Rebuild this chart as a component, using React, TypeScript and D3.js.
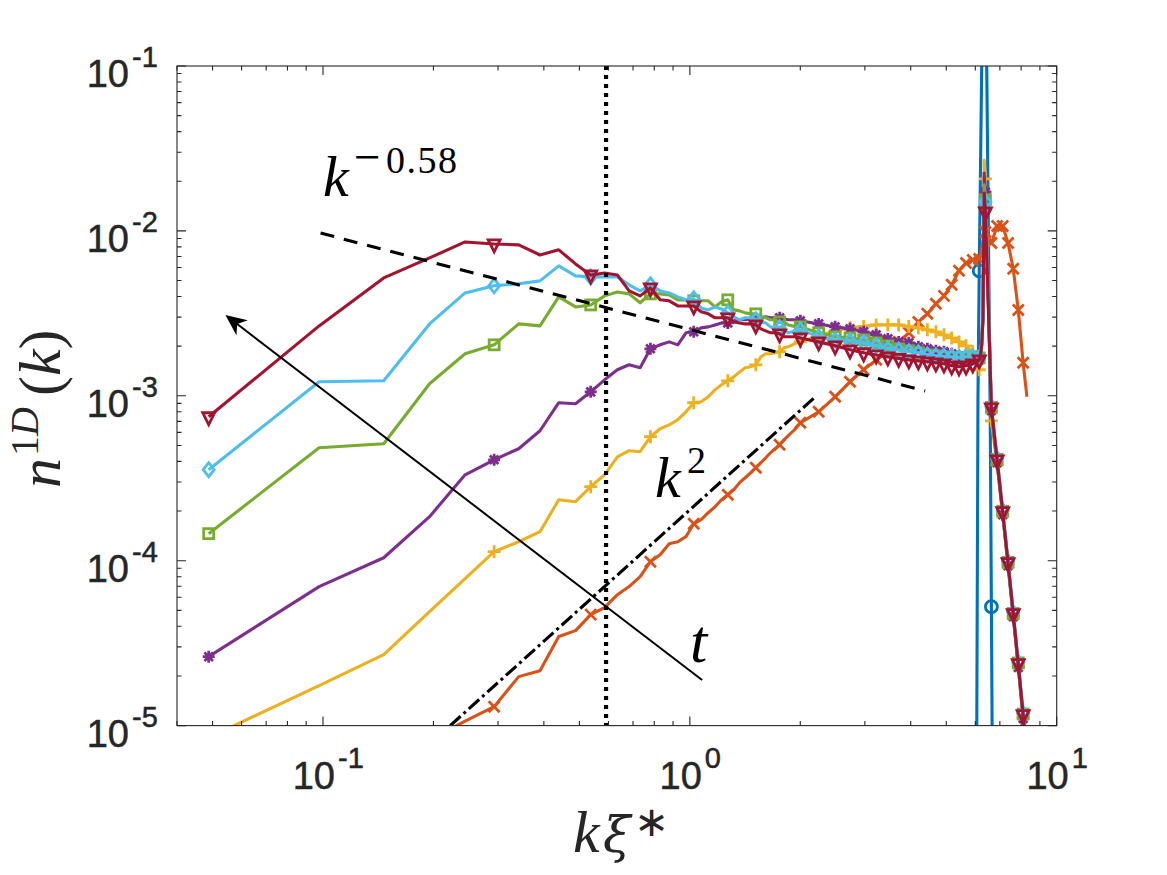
import React from "react";
import * as d3 from "d3";

// grid spacing of the wavenumber axis and the mode numbers
const dk = 0.0488;
const modes = [
  1,2,3,4,5,6,7,8,9,10,11,12,13,14,15,16,17,18,19,20,21,22,23,24,25,26,27,28,29,30,31,32,33,34,35,36,37,38,39,40,41,
  46,51,56,61,66,71,76,81,86,91,96,101,106,111,116,121,126,127,128,129,130,131,136,141,146,151,156,161,166,170,
];
const blueModes = [121,123,124,125,126,127,128,129,130,131,132,133,134,135,136,137,138,141];

// log10 of n^1D(k)
const blueLog = [-9,-7,-5.206,-3.024,-2.242,-1.63,-1,-0.36,-0.1,-0.3,-0.94,-1.667,-2.394,-3.121,-4.279,-5.449,-6.5,-9];
const orangeLog = [
  -6.5,-5.9,-5.5,-5.085,-4.973,-4.885,-4.703,-4.667,-4.46,-4.424,-4.327,-4.285,-4.206,-4.157,-4.097,-4.006,-3.964,-3.897,-3.885,-3.854,-3.776,-3.751,-3.709,-3.673,-3.63,-3.6,-3.57,-3.527,-3.497,-3.467,-3.436,-3.406,-3.376,-3.345,-3.321,-3.297,-3.267,-3.242,-3.218,-3.194,-3.164,
  -3.097,-3.006,-2.915,-2.842,-2.782,-2.733,-2.673,-2.618,-2.552,-2.503,-2.442,-2.394,-2.327,-2.242,-2.194,-2.176,-2.17,-2.146,-2.115,-2.055,-1.982,-2.006,-2.073,-1.97,-1.97,-2.073,-2.23,-2.479,-2.8,-3.006,
];
const yellowLog = [
  -5.073,-4.757,-4.57,-4.309,-4.109,-3.945,-3.885,-3.824,-3.63,-3.642,-3.551,-3.479,-3.37,-3.333,-3.339,-3.248,-3.2,-3.176,-3.145,-3.097,-3.042,-3.036,-3.006,-2.964,-2.933,-2.909,-2.885,-2.855,-2.83,-2.824,-2.812,-2.764,-2.745,-2.745,-2.739,-2.733,-2.709,-2.703,-2.691,-2.679,-2.673,
  -2.636,-2.606,-2.588,-2.579,-2.57,-2.57,-2.57,-2.58,-2.588,-2.6,-2.612,-2.63,-2.649,-2.673,-2.697,-2.733,-2.842,-2.782,-2.691,-2.479,-1.57,-1.685,-3.152,-3.418,-3.715,-4.024,-4.333,-4.642,-4.952,-5.194,
];
const purpleLog = [
  -4.582,-4.157,-3.982,-3.733,-3.479,-3.388,-3.321,-3.212,-3.042,-3.048,-2.976,-2.903,-2.842,-2.812,-2.83,-2.715,-2.691,-2.673,-2.691,-2.618,-2.612,-2.588,-2.582,-2.57,-2.558,-2.558,-2.545,-2.539,-2.539,-2.533,-2.533,-2.527,-2.521,-2.527,-2.527,-2.527,-2.533,-2.539,-2.539,-2.539,-2.545,
  -2.564,-2.582,-2.594,-2.612,-2.63,-2.655,-2.673,-2.679,-2.703,-2.715,-2.727,-2.733,-2.745,-2.761,-2.764,-2.764,-2.782,-2.752,-2.691,-2.527,-1.649,-1.764,-3.091,-3.406,-3.721,-4.03,-4.339,-4.648,-4.957,-5.2,
];
const greenLog = [
  -3.836,-3.315,-3.291,-2.927,-2.745,-2.691,-2.564,-2.576,-2.4,-2.461,-2.449,-2.394,-2.37,-2.382,-2.436,-2.382,-2.382,-2.388,-2.418,-2.418,-2.424,-2.424,-2.424,-2.461,-2.43,-2.418,-2.479,-2.485,-2.497,-2.503,-2.503,-2.521,-2.527,-2.539,-2.539,-2.552,-2.552,-2.57,-2.576,-2.582,-2.582,
  -2.618,-2.642,-2.649,-2.661,-2.679,-2.697,-2.715,-2.727,-2.739,-2.752,-2.758,-2.764,-2.767,-2.77,-2.77,-2.764,-2.77,-2.733,-2.667,-2.509,-1.721,-1.812,-3.07,-3.385,-3.7,-4.01,-4.32,-4.62,-4.93,-5.17,
];
const lightBlueLog = [
  -3.448,-2.915,-2.909,-2.564,-2.376,-2.333,-2.321,-2.303,-2.212,-2.273,-2.279,-2.279,-2.279,-2.327,-2.364,-2.327,-2.364,-2.376,-2.4,-2.418,-2.412,-2.467,-2.479,-2.461,-2.473,-2.497,-2.521,-2.539,-2.527,-2.527,-2.539,-2.552,-2.558,-2.582,-2.588,-2.588,-2.594,-2.618,-2.612,-2.6,-2.6,
  -2.642,-2.661,-2.667,-2.679,-2.697,-2.715,-2.724,-2.733,-2.739,-2.752,-2.758,-2.761,-2.764,-2.767,-2.764,-2.764,-2.77,-2.739,-2.679,-2.527,-1.782,-1.824,-3.067,-3.382,-3.697,-4.006,-4.315,-4.618,-4.927,-5.17,
];
const darkRedLog = [
  -3.127,-2.576,-2.285,-2.164,-2.067,-2.079,-2.085,-2.146,-2.115,-2.2,-2.267,-2.255,-2.267,-2.364,-2.394,-2.346,-2.418,-2.424,-2.455,-2.455,-2.455,-2.491,-2.503,-2.527,-2.527,-2.527,-2.552,-2.558,-2.564,-2.564,-2.57,-2.594,-2.606,-2.618,-2.618,-2.624,-2.642,-2.642,-2.642,-2.642,-2.649,
  -2.673,-2.697,-2.721,-2.739,-2.752,-2.764,-2.773,-2.782,-2.788,-2.794,-2.8,-2.806,-2.818,-2.824,-2.818,-2.806,-2.782,-2.752,-2.691,-2.539,-1.77,-1.885,-3.073,-3.388,-3.703,-4.012,-4.321,-4.624,-4.933,-5.176,
];

const xTickExps = [-1, 0, 1];
const yTickExps = [-1, -2, -3, -4, -5];
const kDashedX = [0.0985, 4.38];
const kDashedY = [0.0097, 0.00107];
const kSquaredX = [0.2222, 2.198];
const kSquaredY = [1e-5, 0.000986];
const arrowX = [1.08, 0.0542];
const arrowY = [1.89e-5, 0.00309];
const kStar = 0.591;

const INK = "#262626";
const W = 1167, H = 875;
const L = 177, R = 1056.7, T = 66, B = 725.6;

const x = d3.scaleLog().domain([0.04, 10]).range([L, R]);
const y = d3.scaleLog().domain([1e-5, 1e-1]).range([B, T]);

type MarkerKind = "o" | "x" | "+" | "*" | "s" | "d" | "v";

function Marker({ kind, cx, cy, color }: { kind: MarkerKind; cx: number; cy: number; color: string }) {
  const p = { fill: "none", stroke: color, strokeWidth: 2.8 };
  const t = `translate(${cx},${cy})`;
  if (kind === "o") return <circle cx={cx} cy={cy} r={6} {...p} />;
  if (kind === "x") return <path transform={t} d="M-5.5,-5.5L5.5,5.5M-5.5,5.5L5.5,-5.5" {...p} />;
  if (kind === "+") return <path transform={t} d="M-6.5,0L6.5,0M0,-6.5L0,6.5" {...p} />;
  if (kind === "*") return <path transform={t} d="M-6,0L6,0M0,-6L0,6M-4.3,-4.3L4.3,4.3M-4.3,4.3L4.3,-4.3" {...p} />;
  if (kind === "s") return <rect x={cx - 5} y={cy - 5} width={10} height={10} {...p} />;
  if (kind === "d") return <path transform={t} d="M-5.5,0L0,-7L5.5,0L0,7Z" {...p} />;
  return <path transform={t} d="M-6,-4L6,-4L0,8Z" {...p} />;
}

const series: { name: string; idx: number[]; log: number[]; color: string; marker: MarkerKind }[] = [
  { name: "blue", idx: blueModes, log: blueLog, color: "#0072BD", marker: "o" },
  { name: "orange", idx: modes, log: orangeLog, color: "#D95319", marker: "x" },
  { name: "yellow", idx: modes, log: yellowLog, color: "#EDB120", marker: "+" },
  { name: "purple", idx: modes, log: purpleLog, color: "#7E2F8E", marker: "*" },
  { name: "green", idx: modes, log: greenLog, color: "#77AC30", marker: "s" },
  { name: "lightblue", idx: modes, log: lightBlueLog, color: "#4DBEEE", marker: "d" },
  { name: "darkred", idx: modes, log: darkRedLog, color: "#A2142F", marker: "v" },
];

function Ticks() {
  const xs: { v: number; major: boolean }[] = [];
  for (let e = -2; e <= 1; e++) for (let m = 1; m <= 9; m++) {
    const v = m * 10 ** e;
    if (v >= 0.04 - 1e-9 && v <= 10 + 1e-9) xs.push({ v, major: m === 1 });
  }
  const ys: { v: number; major: boolean }[] = [];
  for (let e = -5; e <= -1; e++) for (let m = 1; m <= 9; m++) {
    const v = m * 10 ** e;
    if (v <= 0.1 + 1e-12) ys.push({ v, major: m === 1 });
  }
  return (
    <g stroke={INK} strokeWidth={1.1} fill="none">
      {xs.map((t, i) => {
        const l = t.major ? 9 : 4.5;
        const px = x(t.v);
        return <path key={i} d={`M${px},${B}V${B - l}M${px},${T}V${T + l}`} />;
      })}
      {ys.map((t, i) => {
        const l = t.major ? 9 : 4.5;
        const py = y(t.v);
        return <path key={i} d={`M${L},${py}H${L + l}M${R},${py}H${R - l}`} />;
      })}
      <rect x={L} y={T} width={R - L} height={B - T} />
    </g>
  );
}

const SANS = "'Liberation Sans', Arial, sans-serif";
const SERIF = "'Liberation Serif', serif";

function Arrow() {
  const x0 = x(arrowX[0]), y0 = y(arrowY[0]), x1 = x(arrowX[1]), y1 = y(arrowY[1]);
  const a = Math.atan2(y1 - y0, x1 - x0);
  const pt = (r: number, da: number) => `${x1 - r * Math.cos(a + da)},${y1 - r * Math.sin(a + da)}`;
  return (
    <g>
      <line x1={x0} y1={y0} x2={x1 - 12 * Math.cos(a)} y2={y1 - 12 * Math.sin(a)} stroke="#000" strokeWidth={2} />
      <polygon points={`${x1},${y1} ${pt(23, 0.42)} ${pt(15, 0)} ${pt(23, -0.42)}`} fill="#000" />
    </g>
  );
}

export default function App() {
  return (
    <svg width={W} height={H} viewBox={`0 0 ${W} ${H}`} style={{ position: "absolute", left: 0, top: 0, background: "#fff" }}>
      <defs>
        <clipPath id="plot"><rect x={L} y={T} width={R - L} height={B - T} /></clipPath>
      </defs>
      <g clipPath="url(#plot)">
        {series.map((s) => {
          const pts = s.idx.map((n, i) => ({ n, k: n * dk, v: 10 ** s.log[i] }));
          const line = d3.line<{ k: number; v: number }>().x((d) => x(d.k)).y((d) => y(d.v));
          return (
            <g key={s.name}>
              <path d={line(pts) ?? ""} fill="none" stroke={s.color} strokeWidth={3.1} strokeLinejoin="round" />
              {pts.filter((d) => d.n % 5 === 1).map((d) => (
                <Marker key={d.n} kind={s.marker} cx={x(d.k)} cy={y(d.v)} color={s.color} />
              ))}
            </g>
          );
        })}
        <line x1={x(kDashedX[0])} y1={y(kDashedY[0])} x2={x(kDashedX[1])} y2={y(kDashedY[1])} stroke="#000" strokeWidth={3.1} strokeDasharray="14 10" />
        <line x1={x(kSquaredX[0])} y1={y(kSquaredY[0])} x2={x(kSquaredX[1])} y2={y(kSquaredY[1])} stroke="#000" strokeWidth={3.1} strokeDasharray="14 4 3 4" />
        <line x1={x(kStar)} y1={T} x2={x(kStar)} y2={B} stroke="#000" strokeWidth={4.2} strokeDasharray="4 5" />
        <Arrow />
      </g>
      <Ticks />

      {yTickExps.map((e) => (
        <g key={e} fill={INK} stroke={INK} strokeWidth={0.5} fontFamily={SANS}>
          <text x={129} y={y(10 ** e) + 21} fontSize={38} textAnchor="end">10</text>
          <text x={132} y={y(10 ** e) + 1} fontSize={29}>{e < 0 ? `-${-e}` : e}</text>
        </g>
      ))}
      {xTickExps.map((e) => (
        <g key={e} fill={INK} stroke={INK} strokeWidth={0.5} fontFamily={SANS}>
          <text x={x(10 ** e) + 12} y={789} fontSize={38} textAnchor="end">10</text>
          <text x={x(10 ** e) + 15} y={768} fontSize={29}>{e < 0 ? `-${-e}` : e}</text>
        </g>
      ))}

      <g fontFamily={SERIF} fill="#000">
        <text x={323} y={196} fontSize={58} fontStyle="italic">k</text>
        <text x={354} y={173} fontSize={47}>−</text>
        <text x={386} y={173} fontSize={38} letterSpacing={1.5}>0.58</text>
        <text x={655} y={497} fontSize={58} fontStyle="italic">k</text>
        <text x={687} y={473} fontSize={38}>2</text>
        <text x={690} y={662} fontSize={62} fontStyle="italic">t</text>
      </g>

      <g fill={INK}>
        <text x={573} y={852} fontFamily={SERIF} fontSize={60} fontStyle="italic">k</text>
        <text x={603} y={852} fontFamily="'DejaVu Serif', serif" fontSize={50} fontStyle="italic">ξ</text>
        <text x={634} y={836} fontFamily={SERIF} fontSize={42}>∗</text>
      </g>

      <g fontFamily={SERIF} fill={INK} transform="translate(60,488) rotate(-90)">
        <text x={0} y={0} fontSize={60} fontStyle="italic">n</text>
        <text x={32} y={-22} fontSize={40}>1<tspan fontStyle="italic">D</tspan></text>
        <text x={92} y={0} fontSize={60}>(<tspan fontStyle="italic">k</tspan>)</text>
      </g>
    </svg>
  );
}
